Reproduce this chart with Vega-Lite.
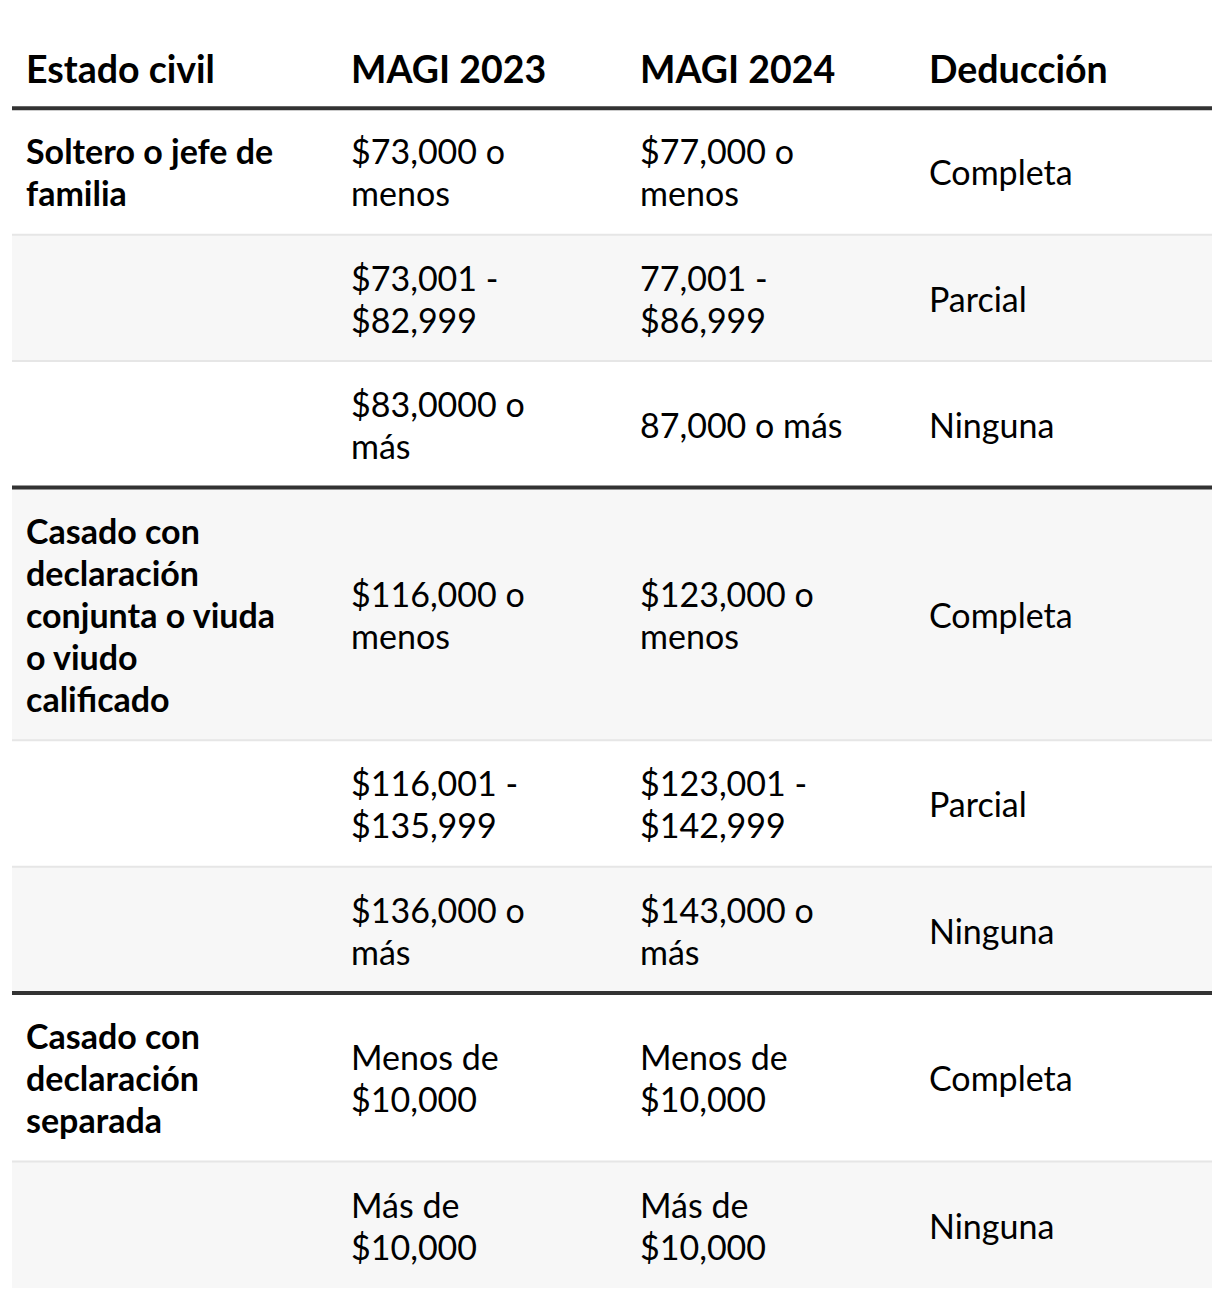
{
  "$schema": "https://vega.github.io/schema/vega-lite/v6.json",
  "background": "#ffffff",
  "padding": {"left": 10, "right": 10, "top": 24, "bottom": 10},
  "spacing": 0,
  "bounds": "flush",
  "config": {"view": {"stroke": null}, "concat": {"spacing": 0}},
  "data": {"values": [
    {"fila": 0, "grupo": 0, "lineas": 1, "estado": "Estado civil", "m2023": "MAGI 2023", "m2024": "MAGI 2024", "deduccion": "Deducción"},
    {"fila": 1, "grupo": 1, "lineas": 2, "estado": "Soltero o jefe de\nfamilia", "m2023": "$73,000 o\nmenos", "m2024": "$77,000 o\nmenos", "deduccion": "Completa"},
    {"fila": 2, "grupo": 1, "lineas": 2, "estado": "", "m2023": "$73,001 -\n$82,999", "m2024": "77,001 -\n$86,999", "deduccion": "Parcial"},
    {"fila": 3, "grupo": 1, "lineas": 2, "estado": "", "m2023": "$83,0000 o\nmás", "m2024": "87,000 o más", "deduccion": "Ninguna"},
    {"fila": 4, "grupo": 2, "lineas": 5, "estado": "Casado con\ndeclaración\nconjunta o viuda\no viudo\ncalificado", "m2023": "$116,000 o\nmenos", "m2024": "$123,000 o\nmenos", "deduccion": "Completa"},
    {"fila": 5, "grupo": 2, "lineas": 2, "estado": "", "m2023": "$116,001 -\n$135,999", "m2024": "$123,001 -\n$142,999", "deduccion": "Parcial"},
    {"fila": 6, "grupo": 2, "lineas": 2, "estado": "", "m2023": "$136,000 o\nmás", "m2024": "$143,000 o\nmás", "deduccion": "Ninguna"},
    {"fila": 7, "grupo": 3, "lineas": 3, "estado": "Casado con\ndeclaración\nseparada", "m2023": "Menos de\n$10,000", "m2024": "Menos de\n$10,000", "deduccion": "Completa"},
    {"fila": 8, "grupo": 3, "lineas": 2, "estado": "", "m2023": "Más de\n$10,000", "m2024": "Más de\n$10,000", "deduccion": "Ninguna"}
  ]},
  "transform": [
    {"calculate": "datum.lineas + 1", "as": "alto"},
    {"window": [{"op": "sum", "field": "alto", "as": "fin"}], "sort": [{"field": "fila"}], "frame": [null, 0]},
    {"calculate": "datum.fin - datum.alto", "as": "inicio"},
    {"calculate": "datum.fin - datum.alto / 2", "as": "centro"},
    {"window": [{"op": "row_number", "as": "pos"}], "groupby": ["grupo"], "sort": [{"field": "fila"}], "frame": [null, null]}
  ],
  "hconcat": [
    {
      "width": 325, "height": 1264,
      "layer": [
        {"transform": [{"filter": "datum.fila > 0 && datum.fila % 2 == 0"}], "mark": {"type": "rect", "color": "#f7f7f7"},
         "encoding": {"x": {"datum": 0, "type": "quantitative", "scale": {"domain": [0, 1], "nice": false, "zero": false}, "axis": null}, "x2": {"datum": 1},
                      "y": {"field": "inicio", "type": "quantitative", "scale": {"domain": [0, 30], "reverse": true, "nice": false, "zero": false}, "axis": null}, "y2": {"field": "fin"}}},
        {"transform": [{"filter": "datum.grupo > 0 && datum.pos > 1"}], "mark": {"type": "rule", "color": "#e6e6e6", "strokeWidth": 2},
         "encoding": {"x": {"datum": 0, "type": "quantitative"}, "x2": {"datum": 1}, "y": {"field": "inicio", "type": "quantitative"}}},
        {"transform": [{"filter": "datum.grupo > 0 && datum.pos == 1"}], "mark": {"type": "rule", "color": "#333333", "strokeWidth": 4},
         "encoding": {"x": {"datum": 0, "type": "quantitative"}, "x2": {"datum": 1}, "y": {"field": "inicio", "type": "quantitative"}}},
        {"transform": [{"filter": "datum.grupo == 0"}], "mark": {"type": "text", "font": "Lato", "fontWeight": "bold", "fontSize": 37.5, "align": "left", "baseline": "middle", "dx": 14, "dy": 6, "color": "#000000", "lineBreak": "\n", "lineHeight": 42},
         "encoding": {"x": {"datum": 0, "type": "quantitative"}, "y": {"field": "centro", "type": "quantitative"}, "text": {"field": "estado"}}},
        {"transform": [{"filter": "datum.grupo > 0"}, {"calculate": "datum.centro - (length(split(datum.estado, '\\n')) - 1) * 0.4984", "as": "ytexto"}],
         "mark": {"type": "text", "font": "Lato", "fontWeight": "bold", "fontSize": 34, "align": "left", "baseline": "middle", "dx": 14, "dy": 4, "color": "#000000", "lineBreak": "\n", "lineHeight": 42},
         "encoding": {"x": {"datum": 0, "type": "quantitative"}, "y": {"field": "ytexto", "type": "quantitative"}, "text": {"field": "estado"}}}
      ]
    },
    {
      "width": 289, "height": 1264,
      "layer": [
        {"transform": [{"filter": "datum.fila > 0 && datum.fila % 2 == 0"}], "mark": {"type": "rect", "color": "#f7f7f7"},
         "encoding": {"x": {"datum": 0, "type": "quantitative", "scale": {"domain": [0, 1], "nice": false, "zero": false}, "axis": null}, "x2": {"datum": 1},
                      "y": {"field": "inicio", "type": "quantitative", "scale": {"domain": [0, 30], "reverse": true, "nice": false, "zero": false}, "axis": null}, "y2": {"field": "fin"}}},
        {"transform": [{"filter": "datum.grupo > 0 && datum.pos > 1"}], "mark": {"type": "rule", "color": "#e6e6e6", "strokeWidth": 2},
         "encoding": {"x": {"datum": 0, "type": "quantitative"}, "x2": {"datum": 1}, "y": {"field": "inicio", "type": "quantitative"}}},
        {"transform": [{"filter": "datum.grupo > 0 && datum.pos == 1"}], "mark": {"type": "rule", "color": "#333333", "strokeWidth": 4},
         "encoding": {"x": {"datum": 0, "type": "quantitative"}, "x2": {"datum": 1}, "y": {"field": "inicio", "type": "quantitative"}}},
        {"transform": [{"filter": "datum.grupo == 0"}], "mark": {"type": "text", "font": "Lato", "fontWeight": "bold", "fontSize": 37.5, "align": "left", "baseline": "middle", "dx": 14, "dy": 6, "color": "#000000", "lineBreak": "\n", "lineHeight": 42},
         "encoding": {"x": {"datum": 0, "type": "quantitative"}, "y": {"field": "centro", "type": "quantitative"}, "text": {"field": "m2023"}}},
        {"transform": [{"filter": "datum.grupo > 0"}, {"calculate": "datum.centro - (length(split(datum.m2023, '\\n')) - 1) * 0.4984", "as": "ytexto"}],
         "mark": {"type": "text", "font": "Lato", "fontSize": 34, "align": "left", "baseline": "middle", "dx": 14, "dy": 4, "color": "#000000", "lineBreak": "\n", "lineHeight": 42},
         "encoding": {"x": {"datum": 0, "type": "quantitative"}, "y": {"field": "ytexto", "type": "quantitative"}, "text": {"field": "m2023"}}}
      ]
    },
    {
      "width": 289, "height": 1264,
      "layer": [
        {"transform": [{"filter": "datum.fila > 0 && datum.fila % 2 == 0"}], "mark": {"type": "rect", "color": "#f7f7f7"},
         "encoding": {"x": {"datum": 0, "type": "quantitative", "scale": {"domain": [0, 1], "nice": false, "zero": false}, "axis": null}, "x2": {"datum": 1},
                      "y": {"field": "inicio", "type": "quantitative", "scale": {"domain": [0, 30], "reverse": true, "nice": false, "zero": false}, "axis": null}, "y2": {"field": "fin"}}},
        {"transform": [{"filter": "datum.grupo > 0 && datum.pos > 1"}], "mark": {"type": "rule", "color": "#e6e6e6", "strokeWidth": 2},
         "encoding": {"x": {"datum": 0, "type": "quantitative"}, "x2": {"datum": 1}, "y": {"field": "inicio", "type": "quantitative"}}},
        {"transform": [{"filter": "datum.grupo > 0 && datum.pos == 1"}], "mark": {"type": "rule", "color": "#333333", "strokeWidth": 4},
         "encoding": {"x": {"datum": 0, "type": "quantitative"}, "x2": {"datum": 1}, "y": {"field": "inicio", "type": "quantitative"}}},
        {"transform": [{"filter": "datum.grupo == 0"}], "mark": {"type": "text", "font": "Lato", "fontWeight": "bold", "fontSize": 37.5, "align": "left", "baseline": "middle", "dx": 14, "dy": 6, "color": "#000000", "lineBreak": "\n", "lineHeight": 42},
         "encoding": {"x": {"datum": 0, "type": "quantitative"}, "y": {"field": "centro", "type": "quantitative"}, "text": {"field": "m2024"}}},
        {"transform": [{"filter": "datum.grupo > 0"}, {"calculate": "datum.centro - (length(split(datum.m2024, '\\n')) - 1) * 0.4984", "as": "ytexto"}],
         "mark": {"type": "text", "font": "Lato", "fontSize": 34, "align": "left", "baseline": "middle", "dx": 14, "dy": 4, "color": "#000000", "lineBreak": "\n", "lineHeight": 42},
         "encoding": {"x": {"datum": 0, "type": "quantitative"}, "y": {"field": "ytexto", "type": "quantitative"}, "text": {"field": "m2024"}}}
      ]
    },
    {
      "width": 297, "height": 1264,
      "layer": [
        {"transform": [{"filter": "datum.fila > 0 && datum.fila % 2 == 0"}], "mark": {"type": "rect", "color": "#f7f7f7"},
         "encoding": {"x": {"datum": 0, "type": "quantitative", "scale": {"domain": [0, 1], "nice": false, "zero": false}, "axis": null}, "x2": {"datum": 1},
                      "y": {"field": "inicio", "type": "quantitative", "scale": {"domain": [0, 30], "reverse": true, "nice": false, "zero": false}, "axis": null}, "y2": {"field": "fin"}}},
        {"transform": [{"filter": "datum.grupo > 0 && datum.pos > 1"}], "mark": {"type": "rule", "color": "#e6e6e6", "strokeWidth": 2},
         "encoding": {"x": {"datum": 0, "type": "quantitative"}, "x2": {"datum": 1}, "y": {"field": "inicio", "type": "quantitative"}}},
        {"transform": [{"filter": "datum.grupo > 0 && datum.pos == 1"}], "mark": {"type": "rule", "color": "#333333", "strokeWidth": 4},
         "encoding": {"x": {"datum": 0, "type": "quantitative"}, "x2": {"datum": 1}, "y": {"field": "inicio", "type": "quantitative"}}},
        {"transform": [{"filter": "datum.grupo == 0"}], "mark": {"type": "text", "font": "Lato", "fontWeight": "bold", "fontSize": 37.5, "align": "left", "baseline": "middle", "dx": 14, "dy": 6, "color": "#000000", "lineBreak": "\n", "lineHeight": 42},
         "encoding": {"x": {"datum": 0, "type": "quantitative"}, "y": {"field": "centro", "type": "quantitative"}, "text": {"field": "deduccion"}}},
        {"transform": [{"filter": "datum.grupo > 0"}, {"calculate": "datum.centro - (length(split(datum.deduccion, '\\n')) - 1) * 0.4984", "as": "ytexto"}],
         "mark": {"type": "text", "font": "Lato", "fontSize": 34, "align": "left", "baseline": "middle", "dx": 14, "dy": 4, "color": "#000000", "lineBreak": "\n", "lineHeight": 42},
         "encoding": {"x": {"datum": 0, "type": "quantitative"}, "y": {"field": "ytexto", "type": "quantitative"}, "text": {"field": "deduccion"}}}
      ]
    }
  ]
}
